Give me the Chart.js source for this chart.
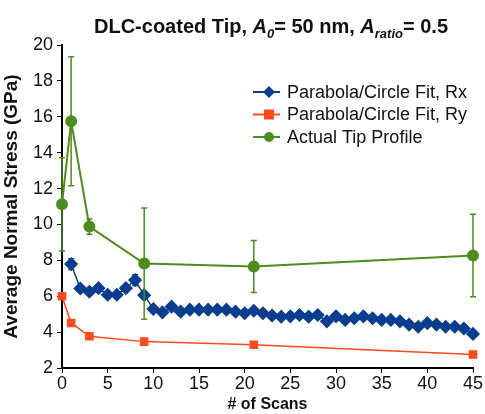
<!DOCTYPE html>
<html>
<head>
<meta charset="utf-8">
<script src="https://cdn.jsdelivr.net/npm/chart.js@4"></script>
<style>
  html, body { margin: 0; padding: 0; background: #fff; }
  #wrap { width: 485px; height: 414px; }
</style>
</head>
<body>
<div id="wrap"><canvas id="c" width="485" height="414"></canvas></div>
<script>
// values
const rxScans = [1, 2, 3, 4, 5, 6, 7, 8, 9, 10, 11, 12, 13, 14, 15, 16, 17, 18, 19, 20, 21, 22, 23,
    24, 25, 26, 27, 28, 29, 30, 31, 32, 33, 34, 35, 36, 37, 38, 39, 40, 41, 42, 43, 44, 45];
const rxStress = [7.79, 6.43, 6.25, 6.45, 6.08, 6.08, 6.45, 6.9, 6.06, 5.29, 5.1, 5.42, 5.14, 5.25,
    5.25, 5.25, 5.25, 5.25, 5.14, 5.05, 5.19, 5.05, 4.92, 4.86, 4.88, 4.95, 4.86, 4.95, 4.6, 4.88,
    4.68, 4.77, 4.88, 4.77, 4.68, 4.68, 4.6, 4.42, 4.3, 4.5, 4.42, 4.3, 4.3, 4.2, 3.9];
const rxErr = [0.3, 0, 0, 0, 0, 0, 0, 0.3, 0, 0, 0, 0, 0, 0, 0, 0, 0, 0, 0, 0, 0, 0, 0,
    0, 0, 0, 0, 0, 0, 0, 0, 0, 0, 0, 0, 0, 0, 0, 0, 0, 0, 0, 0, 0, 0];
const ryScans = [0, 1, 3, 9, 21, 45];
const ryStress = [6.0, 4.51, 3.77, 3.47, 3.3, 2.75];
const tipScans = [0, 1, 3, 9, 21, 45];
const tipStress = [11.12, 15.75, 9.88, 7.82, 7.66, 8.27];
const tipErr = [2.6, 3.6, 0.43, 3.1, 1.45, 2.3];
const xTicks = [0, 5, 10, 15, 20, 25, 30, 35, 40, 45];
const yTicks = [2, 4, 6, 8, 10, 12, 14, 16, 18, 20];

const BLUE = '#0b3d91', RED = '#ff4a1c', GREEN = '#4f8c1f';
const FONT = '"Liberation Sans", Arial, sans-serif';

const pts = (xs, ys) => xs.map((x, i) => ({ x, y: ys[i] }));

// vertical error bars with caps
const errorBars = {
    id: 'errorBars',
    afterDatasetsDraw(chart) {
        const { ctx, scales: { x, y } } = chart;
        chart.data.datasets.forEach((ds) => {
            if (!ds.errors) return;
            ctx.save();
            ctx.strokeStyle = ds.borderColor;
            ctx.lineWidth = 1.5;
            ds.data.forEach((p, i) => {
                const e = ds.errors[i];
                if (!e) return;
                const px = x.getPixelForValue(p.x);
                const top = y.getPixelForValue(p.y + e);
                const bot = y.getPixelForValue(p.y - e);
                ctx.beginPath();
                ctx.moveTo(px, top); ctx.lineTo(px, bot);
                ctx.moveTo(px - 3, top); ctx.lineTo(px + 3, top);
                ctx.moveTo(px - 3, bot); ctx.lineTo(px + 3, bot);
                ctx.stroke();
            });
            ctx.restore();
        });
    }
};

// title with italic A and subscripts
const titleRich = {
    id: 'titleRich',
    afterDraw(chart) {
        const ctx = chart.ctx;
        const parts = [
            ['DLC-coated Tip, ', 'bold 20px', 0],
            ['A', 'italic bold 20px', 0],
            ['0', 'italic bold 13px', 5],
            ['= 50 nm, ', 'bold 20px', 0],
            ['A', 'italic bold 20px', 0],
            ['ratio', 'italic bold 13px', 5],
            ['= 0.5', 'bold 20px', 0],
        ];
        ctx.save();
        ctx.fillStyle = '#111';
        ctx.textBaseline = 'alphabetic';
        let w = 0;
        parts.forEach(([s, f]) => { ctx.font = f + ' ' + FONT; w += ctx.measureText(s).width; });
        let cx = 271 - w / 2;
        parts.forEach(([s, f, dy]) => {
            ctx.font = f + ' ' + FONT;
            ctx.fillText(s, cx, 33 + dy);
            cx += ctx.measureText(s).width;
        });
        ctx.restore();
    }
};

// legend drawn inside the plot area
const legendBox = {
    id: 'legendBox',
    afterDraw(chart) {
        const ctx = chart.ctx;
        ctx.save();
        ctx.font = '18px ' + FONT;
        ctx.textBaseline = 'middle';
        chart.data.datasets.forEach((ds, i) => {
            const yy = 92 + i * 22.5;
            ctx.strokeStyle = ds.borderColor;
            ctx.lineWidth = 2;
            ctx.beginPath(); ctx.moveTo(253, yy); ctx.lineTo(280, yy); ctx.stroke();
            ctx.fillStyle = ds.borderColor;
            ctx.beginPath();
            if (ds.pointStyle === 'rectRot') {
                ctx.moveTo(269, yy - 6); ctx.lineTo(275, yy); ctx.lineTo(269, yy + 6); ctx.lineTo(263, yy);
            } else if (ds.pointStyle === 'rect') {
                ctx.rect(264, yy - 5, 10, 10);
            } else {
                ctx.arc(269, yy, 5, 0, Math.PI * 2);
            }
            ctx.fill();
            ctx.fillStyle = '#111';
            ctx.fillText(ds.label, 287, yy + 1);
        });
        ctx.restore();
    }
};

new Chart(document.getElementById('c'), {
    type: 'scatter',
    data: {
        datasets: [
            { label: 'Parabola/Circle Fit, Rx', data: pts(rxScans, rxStress), errors: rxErr,
              borderColor: BLUE, backgroundColor: BLUE, showLine: true, borderWidth: 1.5,
              pointStyle: 'rectRot', pointRadius: 6, pointHoverRadius: 6, clip: false },
            { label: 'Parabola/Circle Fit, Ry', data: pts(ryScans, ryStress),
              borderColor: RED, backgroundColor: RED, showLine: true, borderWidth: 1.5,
              pointStyle: 'rect', pointRadius: 5, clip: false },
            { label: 'Actual Tip Profile', data: pts(tipScans, tipStress), errors: tipErr,
              borderColor: GREEN, backgroundColor: GREEN, showLine: true, borderWidth: 2,
              pointStyle: 'circle', pointRadius: 5, clip: false },
        ],
    },
    options: {
        responsive: false,
        animation: false,
        layout: { padding: { top: 45, right: 12, left: 0, bottom: 0 } },
        plugins: { legend: { display: false }, tooltip: { enabled: false } },
        scales: {
            x: {
                type: 'linear', min: 0, max: 45,
                afterBuildTicks: (s) => { s.ticks = xTicks.map((v) => ({ value: v })); },
                afterFit: (s) => { s.height = 46; },
                grid: { drawOnChartArea: false, drawTicks: true, tickLength: 5, color: '#000' },
                border: { display: true, color: '#000', width: 2 },
                ticks: { color: '#111', font: { family: FONT, size: 18 }, padding: 0, maxRotation: 0 },
                title: { display: true, text: '# of Scans', color: '#111', padding: 0,
                         font: { family: FONT, size: 16, weight: 'bold' } },
            },
            y: {
                min: 2, max: 20,
                afterBuildTicks: (s) => { s.ticks = yTicks.map((v) => ({ value: v })); },
                afterFit: (s) => { s.width = 62; },
                grid: { drawOnChartArea: false, drawTicks: true, tickLength: 5, color: '#000' },
                border: { display: true, color: '#000', width: 2 },
                ticks: { color: '#111', font: { family: FONT, size: 18 }, padding: 4 },
                title: { display: true, text: 'Average Normal Stress (GPa)', color: '#111', padding: 0,
                         font: { family: FONT, size: 19, weight: 'bold' } },
            },
        },
    },
    plugins: [errorBars, titleRich, legendBox],
});
</script>
</body>
</html>
